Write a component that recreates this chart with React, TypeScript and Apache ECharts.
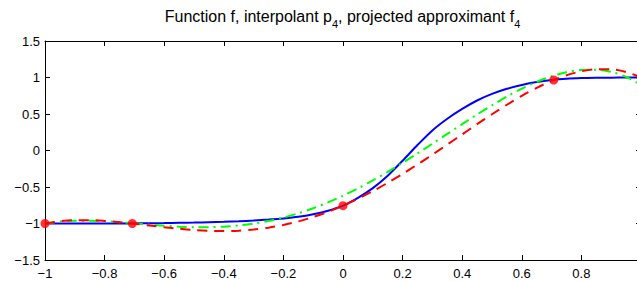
import React, { useEffect, useRef } from "react";
import * as echarts from "echarts";

const xValues = [
  -1, -0.95, -0.9, -0.85, -0.8, -0.75, -0.7, -0.65, -0.6, -0.55, -0.5,
  -0.45, -0.4, -0.35, -0.3, -0.25, -0.2, -0.15, -0.1, -0.05, 0,
  0.05, 0.1, 0.15, 0.2, 0.25, 0.3, 0.35, 0.4, 0.45, 0.5,
  0.55, 0.6, 0.65, 0.7, 0.75, 0.8, 0.85, 0.9, 0.95, 1,
];

// function f (blue, solid)
const fValues = [
  -1.0, -1.0, -1.0, -1.0, -0.999, -0.999, -0.998, -0.996, -0.994, -0.991, -0.988,
  -0.983, -0.977, -0.969, -0.959, -0.946, -0.93, -0.908, -0.873, -0.825, -0.756,
  -0.648, -0.515, -0.345, -0.14, 0.075, 0.275, 0.435, 0.57, 0.685, 0.775,
  0.845, 0.897, 0.937, 0.965, 0.983, 0.992, 0.996, 0.998, 0.999, 1.0,
];

// interpolant p4 (red, dashed)
const p4Values = [
  -1.0, -0.9689, -0.9549, -0.9544, -0.9643, -0.9815, -1.0033, -1.0272, -1.0508, -1.072, -1.089,
  -1.0998, -1.1032, -1.0979, -1.0828, -1.057, -1.0201, -0.9716, -0.9114, -0.8394, -0.756,
  -0.6616, -0.5568, -0.4428, -0.3205, -0.1912, -0.0566, 0.0815, 0.2212, 0.3604, 0.4964,
  0.6268, 0.7486, 0.8586, 0.9539, 1.0307, 1.0853, 1.1138, 1.1121, 1.0757, 1.0,
];

// projected approximant f4 (green, dash-dot)
const f4Values = [
  -1.0, -0.9738, -0.962, -0.9614, -0.9691, -0.9823, -0.9985, -1.0155, -1.0308, -1.043, -1.05,
  -1.0505, -1.0432, -1.027, -1.0011, -0.9648, -0.9177, -0.8597, -0.7904, -0.7105, -0.62,
  -0.5197, -0.4104, -0.2931, -0.1691, -0.0398, 0.0931, 0.2276, 0.362, 0.4935, 0.62,
  0.7386, 0.8464, 0.9403, 1.0169, 1.0727, 1.1039, 1.1064, 1.0764, 1.009, 0.9,
];

// interpolation nodes (red dots)
const nodeX = [-1, -0.7071, 0, 0.7071, 1];
const nodeY = [-1, -1, -0.756, 0.966, 1];

const FONT = "'Liberation Sans', Arial, Helvetica, sans-serif";

export default function App() {
  const ref = useRef<HTMLDivElement>(null);

  useEffect(() => {
    if (!ref.current) return;
    const chart = echarts.init(ref.current, null, { renderer: "svg" });
    const fmt = (v: number) => {
      const r = Math.round(v * 100) / 100;
      if (r === 0) return "0";
      return r < 0 ? "\u2212" + String(Math.abs(r)) : String(r);
    };
    const fmtX = (v: number) => (Math.abs(v - 1) < 1e-9 ? "" : fmt(v));

    const axisLine = { show: true, onZero: false, lineStyle: { color: "#000", width: 1 } };
    const axisTick = { show: true, inside: true, length: 5, lineStyle: { color: "#000", width: 1 } };
    const label = { color: "#000", fontSize: 13, fontFamily: FONT };

    chart.setOption({
      animation: false,
      backgroundColor: "#fff",
      title: {
        left: 342.5,
        top: 4,
        textAlign: "center",
        padding: 0,
        text: "{a|Function f, interpolant p}{s|4}{a|, projected approximant f}{s|4}",
        textStyle: {
          fontWeight: "normal",
          fontSize: 16,
          rich: {
            a: { fontSize: 16, fontFamily: FONT, color: "#000", fontWeight: "normal" },
            s: { fontSize: 11, fontFamily: FONT, color: "#000", fontWeight: "normal", padding: [14, 0, 0, 0] },
          },
        },
      },
      grid: { left: 45, top: 41, right: -4, bottom: 21, containLabel: false, outerBoundsMode: "none" },
      xAxis: [
        {
          type: "value", min: -1, max: 1, interval: 0.2, position: "bottom",
          axisLine, axisTick, splitLine: { show: false },
          axisLabel: { ...label, margin: 7, formatter: fmtX },
        },
        {
          type: "value", min: -1, max: 1, interval: 0.2, position: "top",
          axisLine, axisTick, splitLine: { show: false },
          axisLabel: { show: false },
        },
      ],
      yAxis: [
        {
          type: "value", min: -1.5, max: 1.5, interval: 0.5, position: "left",
          axisLine, axisTick, splitLine: { show: false },
          axisLabel: { ...label, margin: 5, formatter: fmt },
        },
        {
          type: "value", min: -1.5, max: 1.5, interval: 0.5, position: "right",
          axisLine, axisTick, splitLine: { show: false },
          axisLabel: { show: false },
        },
      ],
      series: [
        {
          type: "line", name: "f",
          data: xValues.map((x, i) => [x, fValues[i]]),
          showSymbol: false, smooth: 0.3, z: 2,
          lineStyle: { color: "#0000ff", width: 2 },
        },
        {
          type: "line", name: "f4",
          data: xValues.map((x, i) => [x, f4Values[i]]),
          showSymbol: false, smooth: 0.3, z: 3,
          lineStyle: { color: "#00ff00", width: 2, type: [10, 5, 2, 5] },
        },
        {
          type: "line", name: "p4",
          data: xValues.map((x, i) => [x, p4Values[i]]),
          showSymbol: false, smooth: 0.3, z: 4,
          lineStyle: { color: "#ff0000", width: 2, type: [10, 7] },
        },
        {
          type: "scatter", name: "nodes",
          data: nodeX.map((x, i) => [x, nodeY[i]]),
          symbol: "circle", symbolSize: 9, clip: false, z: 5,
          itemStyle: { color: "#ff0000" },
        },
      ],
    });
    return () => chart.dispose();
  }, []);

  return (
    <div
      ref={ref}
      style={{ position: "fixed", left: 0, top: 0, width: 637, height: 281, background: "#fff" }}
    />
  );
}
